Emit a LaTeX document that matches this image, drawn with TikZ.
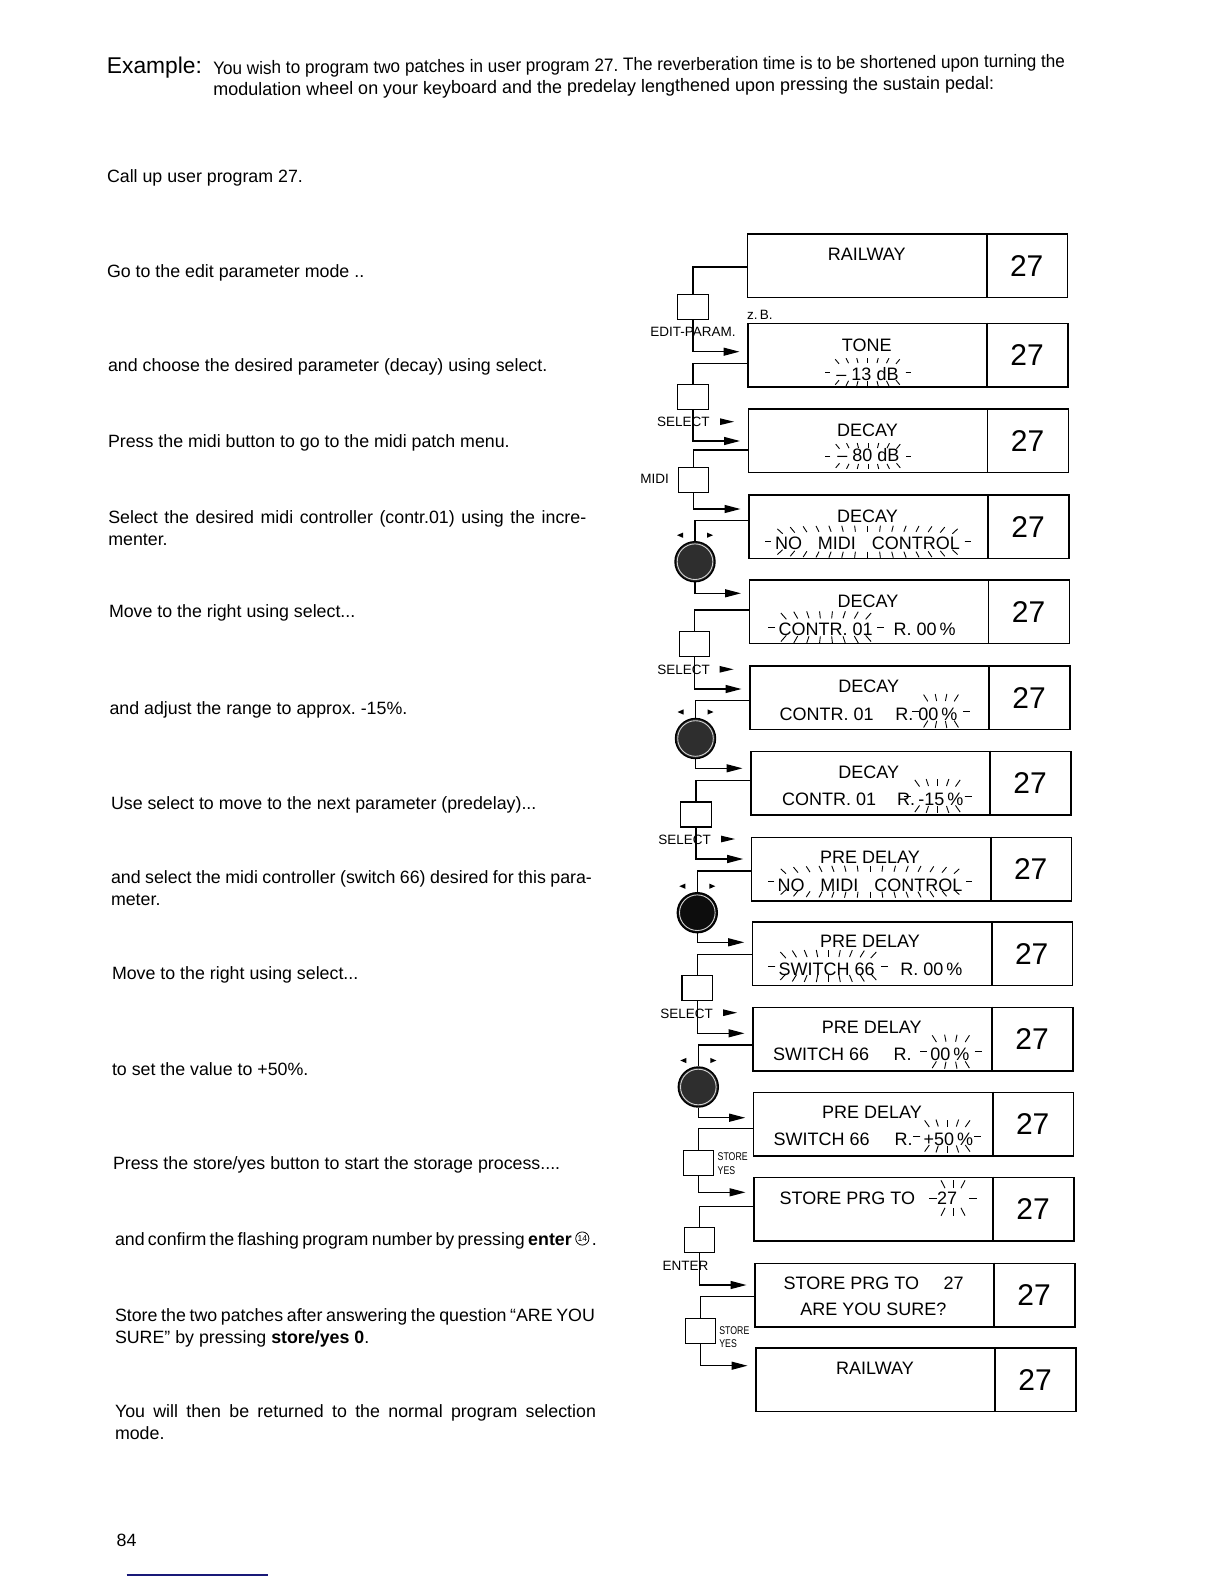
\documentclass[tikz,border=0pt]{standalone}
\usepackage{fontspec}
\setmainfont{Liberation Sans}
\newfontfamily\narrowfont{Liberation Sans}[FakeStretch=0.78]
\usetikzlibrary{calc,arrows.meta}
\definecolor{navyline}{RGB}{25,25,120}
% flashing marks: cx cy a b L n
\newcommand\flash[6]{%
  \foreach \i in {0,...,#6}{%
    \pgfmathsetmacro\fu{-1+2*\i/#6}%
    \pgfmathsetmacro\fs{pow(abs(1-\fu*\fu*\fu*\fu),0.25)}%
    \draw[flashline] ({#1+#3*\fu},{#2-#4*\fs}) -- ({#1+(#3+#5)*\fu},{#2-(#4+#5)*\fs});
    \draw[flashline] ({#1+#3*\fu},{#2+#4*\fs}) -- ({#1+(#3+#5)*\fu},{#2+(#4+#5)*\fs});
  }}
% display: name L T
\newcommand\disp[3]{%
  \node[dispbox] (#1) at (#2,#3) {};
  \draw[boxline] ($(#1.north west)+(240,0)$) -- ($(#1.south west)+(240,0)$);
  \node[numtxt] (#1n) at ($(#1.west)+(280,0)$) {27};}
\newcommand\selarrow[2]{\fill ({#1},{#2-3.4}) -- ({#1+14},{#2}) -- ({#1},{#2+3.4}) -- cycle;}
\newcommand\knobarrows[1]{%
  \fill ($(#1.center)+(-18,-26.5)$) -- ++(6,-2.6) -- ++(0,5.2) -- cycle;
  \fill ($(#1.center)+(18,-26.5)$) -- ++(-6,-2.6) -- ++(0,5.2) -- cycle;
  \draw[white!65!gray, line width=0.45pt] (#1.center) circle[radius=17.8];}
\begin{document}
\frenchspacing
\begin{tikzpicture}[x=0.5pt,y=-0.5pt,
  body/.style={anchor=base west, inner sep=0, outer sep=0, font=\fontsize{8.9pt}{10.75pt}\selectfont},
  head/.style={anchor=base west, inner sep=0, outer sep=0, font=\fontsize{9pt}{10pt}\selectfont, rotate=0.5},
  lbl/.style={anchor=base west, inner sep=0, font=\fontsize{6.75pt}{8pt}\selectfont},
  small/.style={anchor=base west, inner sep=0, font=\narrowfont\fontsize{5.6pt}{6pt}\selectfont},
  dtxt/.style={anchor=base, inner sep=0, font=\fontsize{9pt}{10pt}\selectfont},
  dtxtw/.style={dtxt, anchor=base west},
  numtxt/.style={inner sep=0, font=\fontsize{15pt}{17pt}\selectfont},
  boxline/.style={line width=0.8pt},
  dispbox/.style={draw, boxline, minimum width=160pt, minimum height=31.75pt, inner sep=0, anchor=north west},
  btn/.style={draw, line width=0.65pt, minimum width=15.25pt, minimum height=12.5pt, inner sep=0},
  knob/.style={circle, draw=black, fill=black!82, line width=0.7pt, minimum size=20pt, inner sep=0},
  conn/.style={line width=0.65pt},
  arr/.style={conn, -{Triangle[length=8pt,width=4pt]}},
  flashline/.style={line width=0.45pt},
]
\fill[white] (0,0) rectangle (1224,1584);
\useasboundingbox (0,0) rectangle (1224,1584);

% ---------- header ----------
\node[anchor=base west, inner sep=0, font=\fontsize{11.4pt}{13pt}\selectfont] (ex) at (106.5,74) {Example:};
\node[head] (h1) at (213.3,74.5) {\scalebox{0.952}[1]{You wish to program two patches in user program 27. The reverberation time is to be shortened upon turning the}};
\node[head] (h2) at (213.3,96) {\makebox[390.5pt][s]{modulation wheel on your keyboard and the predelay lengthened upon pressing the sustain pedal:}};

% ---------- left text column ----------
\node[body] (p1) at (107,182.5) {Call up user program 27.};
\node[body] (p2) at (107,277) {Go to the edit parameter mode ..};
\node[body] (p3) at (108,371) {and choose the desired parameter (decay) using select.};
\node[body] (p4) at (108,447) {Press the midi button to go to the midi patch menu.};
\node[body] (p5) at (108.3,523.3) {\makebox[239pt][s]{Select the desired midi controller (contr.01) using the incre-}};
\node[body] (p5b) at (108.3,545) {menter.};
\node[body] (p6) at (109,617.5) {Move to the right using select...};
\node[body] (p7) at (109.5,714.5) {and adjust the range to approx. -15\%.};
\node[body] (p8) at (111,809.5) {Use select to move to the next parameter (predelay)...};
\node[body] (p9) at (111,883) {\makebox[240.5pt][s]{and select the midi controller (switch 66) desired for this para-}};
\node[body] (p9b) at (111,905.5) {meter.};
\node[body] (p10) at (112,979) {Move to the right using select...};
\node[body] (p11) at (112,1075) {to set the value to +50\%.};
\node[body] (p12) at (113,1169) {Press the store/yes button to start the storage process....};
\node[body] (p13) at (115,1245) {\makebox[226.65pt][s]{and confirm the flashing program number by pressing \textbf{enter}}};
\node[circle, draw, line width=0.4pt, inner sep=0, minimum size=6.6pt, font=\fontsize{4.3pt}{5pt}\selectfont] (c14) at ($(p13.base east)+(14,-6.5)$) {14};
\node[body] (p13dot) at ($(c14.east)+(2.5,6.5)$) {.};
\node[body] (p14) at (115,1321.5) {\makebox[240pt][s]{Store the two patches after answering the question ``ARE YOU}};
\node[body] (p14b) at (115,1343) {SURE'' by pressing \textbf{store/yes 0}.};
\node[body] (p15) at (115,1417) {\makebox[240.5pt][s]{You will then be returned to the normal program selection}};
\node[body] (p15b) at (115,1439) {mode.};
\node[body] (pg) at (116.7,1546) {84};
\draw[navyline, line width=0.7pt] (126.7,1575) -- (268.3,1575);

% ---------- displays ----------
\disp{d1}{746.7}{233}
\disp{d2}{747}{322.7}
\disp{d3}{747.5}{408.3}
\disp{d4}{748}{494}
\disp{d5}{748.5}{579}
\disp{d6}{749}{665}
\disp{d7}{750}{750.7}
\disp{d8}{750.7}{836.7}
\disp{d9}{751.7}{921}
\disp{d10}{752}{1006.7}
\disp{d11}{752.7}{1091.7}
\disp{d12}{753}{1176.7}
\disp{d13}{754}{1262.7}
\disp{d14}{755}{1347}

% display texts
\node[dtxt] (t1) at (866.7,260) {RAILWAY};
\node[dtxt] (t2a) at (866.7,351) {TONE};
\node[dtxt] (t2b) at (867.5,380.5) {– 13 dB};
\node[dtxt] (t3a) at (867.5,436.7) {DECAY};
\node[dtxt] (t3b) at (868.3,461) {– 80 dB};
\node[dtxt] (t4a) at (867.5,522.7) {DECAY};
\node[dtxt] (t4b) at (867.5,549) {NO\hspace{8pt}MIDI\hspace{8pt}CONTROL};
\node[dtxt] (t5a) at (868,607) {DECAY};
\node[dtxtw] (t5b) at (778.3,635.7) {CONTR. 01};
\node[dtxtw] (t5c) at (893.3,635.7) {R. 00\,\%};
\node[dtxt] (t6a) at (868.7,692.7) {DECAY};
\node[dtxtw] (t6b) at (779.3,720) {CONTR. 01};
\node[dtxtw] (t6c) at (895,720) {R.};
\node[dtxtw] (t6d) at (918,720) {00\,\%};
\node[dtxt] (t7a) at (868.8,778.3) {DECAY};
\node[dtxtw] (t7b) at (781.7,805) {CONTR. 01};
\node[dtxtw] (t7c) at (896.7,805) {R.};
\node[dtxtw] (t7d) at (918,805) {-15\,\%};
\node[dtxt] (t8a) at (870,863.3) {PRE DELAY};
\node[dtxt] (t8b) at (870,891.7) {NO\hspace{8pt}MIDI\hspace{8pt}CONTROL};
\node[dtxt] (t9a) at (870,947.7) {PRE DELAY};
\node[dtxtw] (t9b) at (778.3,975) {SWITCH 66};
\node[dtxtw] (t9c) at (900,975) {R. 00\,\%};
\node[dtxt] (t10a) at (871.7,1033.3) {PRE DELAY};
\node[dtxtw] (t10b) at (772.7,1060.7) {SWITCH 66};
\node[dtxtw] (t10c) at (893.3,1060.7) {R.};
\node[dtxtw] (t10d) at (930,1060.7) {00\,\%};
\node[dtxt] (t11a) at (872,1118.3) {PRE DELAY};
\node[dtxtw] (t11b) at (773.3,1145.7) {SWITCH 66};
\node[dtxtw] (t11c) at (894.3,1145.7) {R.};
\node[dtxtw] (t11d) at (923.3,1145.7) {+50\,\%};
\node[dtxtw] (t12a) at (779.3,1204) {STORE PRG TO};
\node[dtxtw] (t12b) at (936.7,1204) {27};
\node[dtxtw] (t13a) at (783.3,1289) {STORE PRG TO};
\node[dtxtw] (t13b) at (943.3,1289) {27};
\node[dtxt] (t13c) at (873.3,1315) {ARE YOU SURE?};
\node[dtxt] (t14) at (875,1374) {RAILWAY};

% flashing marks
\flash{867.5}{372}{38}{9}{5}{8}
\flash{868}{456}{38}{8}{5}{8}
\flash{867.5}{541.7}{97}{10}{6}{16}
\flash{826}{627.3}{51}{9}{7}{9}
\flash{941}{711}{22}{10}{7}{5}
\flash{937.5}{796}{27}{10}{7}{6}
\flash{870}{881.7}{96}{10}{6}{16}
\flash{828.3}{966}{53}{9}{7}{10}
\flash{950.8}{1051.7}{24}{10}{7}{5}
\flash{947.3}{1136}{27}{9.5}{7}{6}
\flash{953}{1198}{16}{10}{8}{4}

% ---------- buttons and knobs ----------
\node[btn] (B1) at (692.9,306.7) {};
\node[btn] (B2) at (692.9,396.8) {};
\node[btn] (B3) at (693.5,479.7) {};
\node[btn] (B4) at (694.5,644.2) {};
\node[btn] (B5) at (695.9,814.5) {};
\node[btn] (B6) at (697.2,988.2) {};
\node[btn] (B7) at (698.4,1163.2) {};
\node[btn] (B8) at (699.5,1240.2) {};
\node[btn] (B9) at (700.4,1330.9) {};
\node[knob] (K1) at (695,561.7) {};
\node[knob] (K2) at (695.5,738.5) {};
\node[knob, fill=black!95] (K3) at (697.3,912.7) {};
\node[knob] (K4) at (698.3,1087) {};
\knobarrows{K1}
\knobarrows{K2}
\knobarrows{K3}
\knobarrows{K4}

% labels
\node[lbl] (l1) at (650,336) {EDIT-PARAM.};
\node[lbl] (zb) at (746.7,319.3) {z.\,B.};
\node[lbl] (l2) at (656.7,426.7) {SELECT};
\node[lbl] (l3) at (640,483.3) {MIDI};
\node[lbl] (l4) at (657,674.3) {SELECT};
\node[lbl] (l5) at (658,844) {SELECT};
\node[lbl] (l6) at (660,1018.3) {SELECT};
\node[lbl] (l7) at (662.3,1270.7) {ENTER};
\node[small] (s1) at (717.3,1160.7) {STORE};
\node[small] (y1) at (717.3,1174) {YES};
\node[small] (s2) at (719,1334) {STORE};
\node[small] (y2) at (719,1347.3) {YES};
\selarrow{720}{421.7}
\selarrow{719.5}{669.3}
\selarrow{721}{839}
\selarrow{723}{1012.7}

% ---------- connectors ----------
\draw[conn] ($(d1.north west)+(0,34)$) -| (B1.north);
\draw[arr] (B1.south) |- ($(d2.north west)+(-7.5,29)$);
\draw[conn] ($(d2.north west)+(0,40.6)$) -| (B2.north);
\draw[arr] (B2.south) |- ($(d3.north west)+(-7.5,32.7)$);
\draw[conn] ($(d3.north west)+(0,41.7)$) -| (B3.north);
\draw[arr] (B3.south) |- ($(d4.north west)+(-7.5,15)$);
\draw[conn] ($(d4.north west)+(0,26.7)$) -| (K1.north);
\draw[arr] (K1.south) |- ($(d5.north west)+(-7.5,14.3)$);
\draw[conn] ($(d5.north west)+(0,31)$) -| (B4.north);
\draw[arr] (B4.south) |- ($(d6.north west)+(-7.5,24)$);
\draw[conn] ($(d6.north west)+(0,35.7)$) -| (K2.north);
\draw[arr] (K2.south) |- ($(d7.north west)+(-7.5,17.6)$);
\draw[conn] ($(d7.north west)+(0,30)$) -| (B5.north);
\draw[arr] (B5.south) |- ($(d8.north west)+(-7.5,22.3)$);
\draw[conn] ($(d8.north west)+(0,34.3)$) -| (K3.north);
\draw[arr] (K3.south) |- ($(d9.north west)+(-7.5,21.3)$);
\draw[conn] ($(d9.north west)+(0,33.3)$) -| (B6.north);
\draw[arr] (B6.south) |- ($(d10.north west)+(-7.5,26.6)$);
\draw[conn] ($(d10.north west)+(0,38.3)$) -| (K4.north);
\draw[arr] (K4.south) |- ($(d11.north west)+(-7.5,26)$);
\draw[conn] ($(d11.north west)+(0,36.6)$) -| (B7.north);
\draw[arr] (B7.south) |- ($(d12.north west)+(-7.5,15.6)$);
\draw[conn] ($(d12.north west)+(0,30)$) -| (B8.north);
\draw[arr] (B8.south) |- ($(d13.north west)+(-7.5,22.3)$);
\draw[conn] ($(d13.north west)+(0,34)$) -| (B9.north);
\draw[arr] (B9.south) |- ($(d14.north west)+(-7.5,18.7)$);
\end{tikzpicture}
\end{document}
